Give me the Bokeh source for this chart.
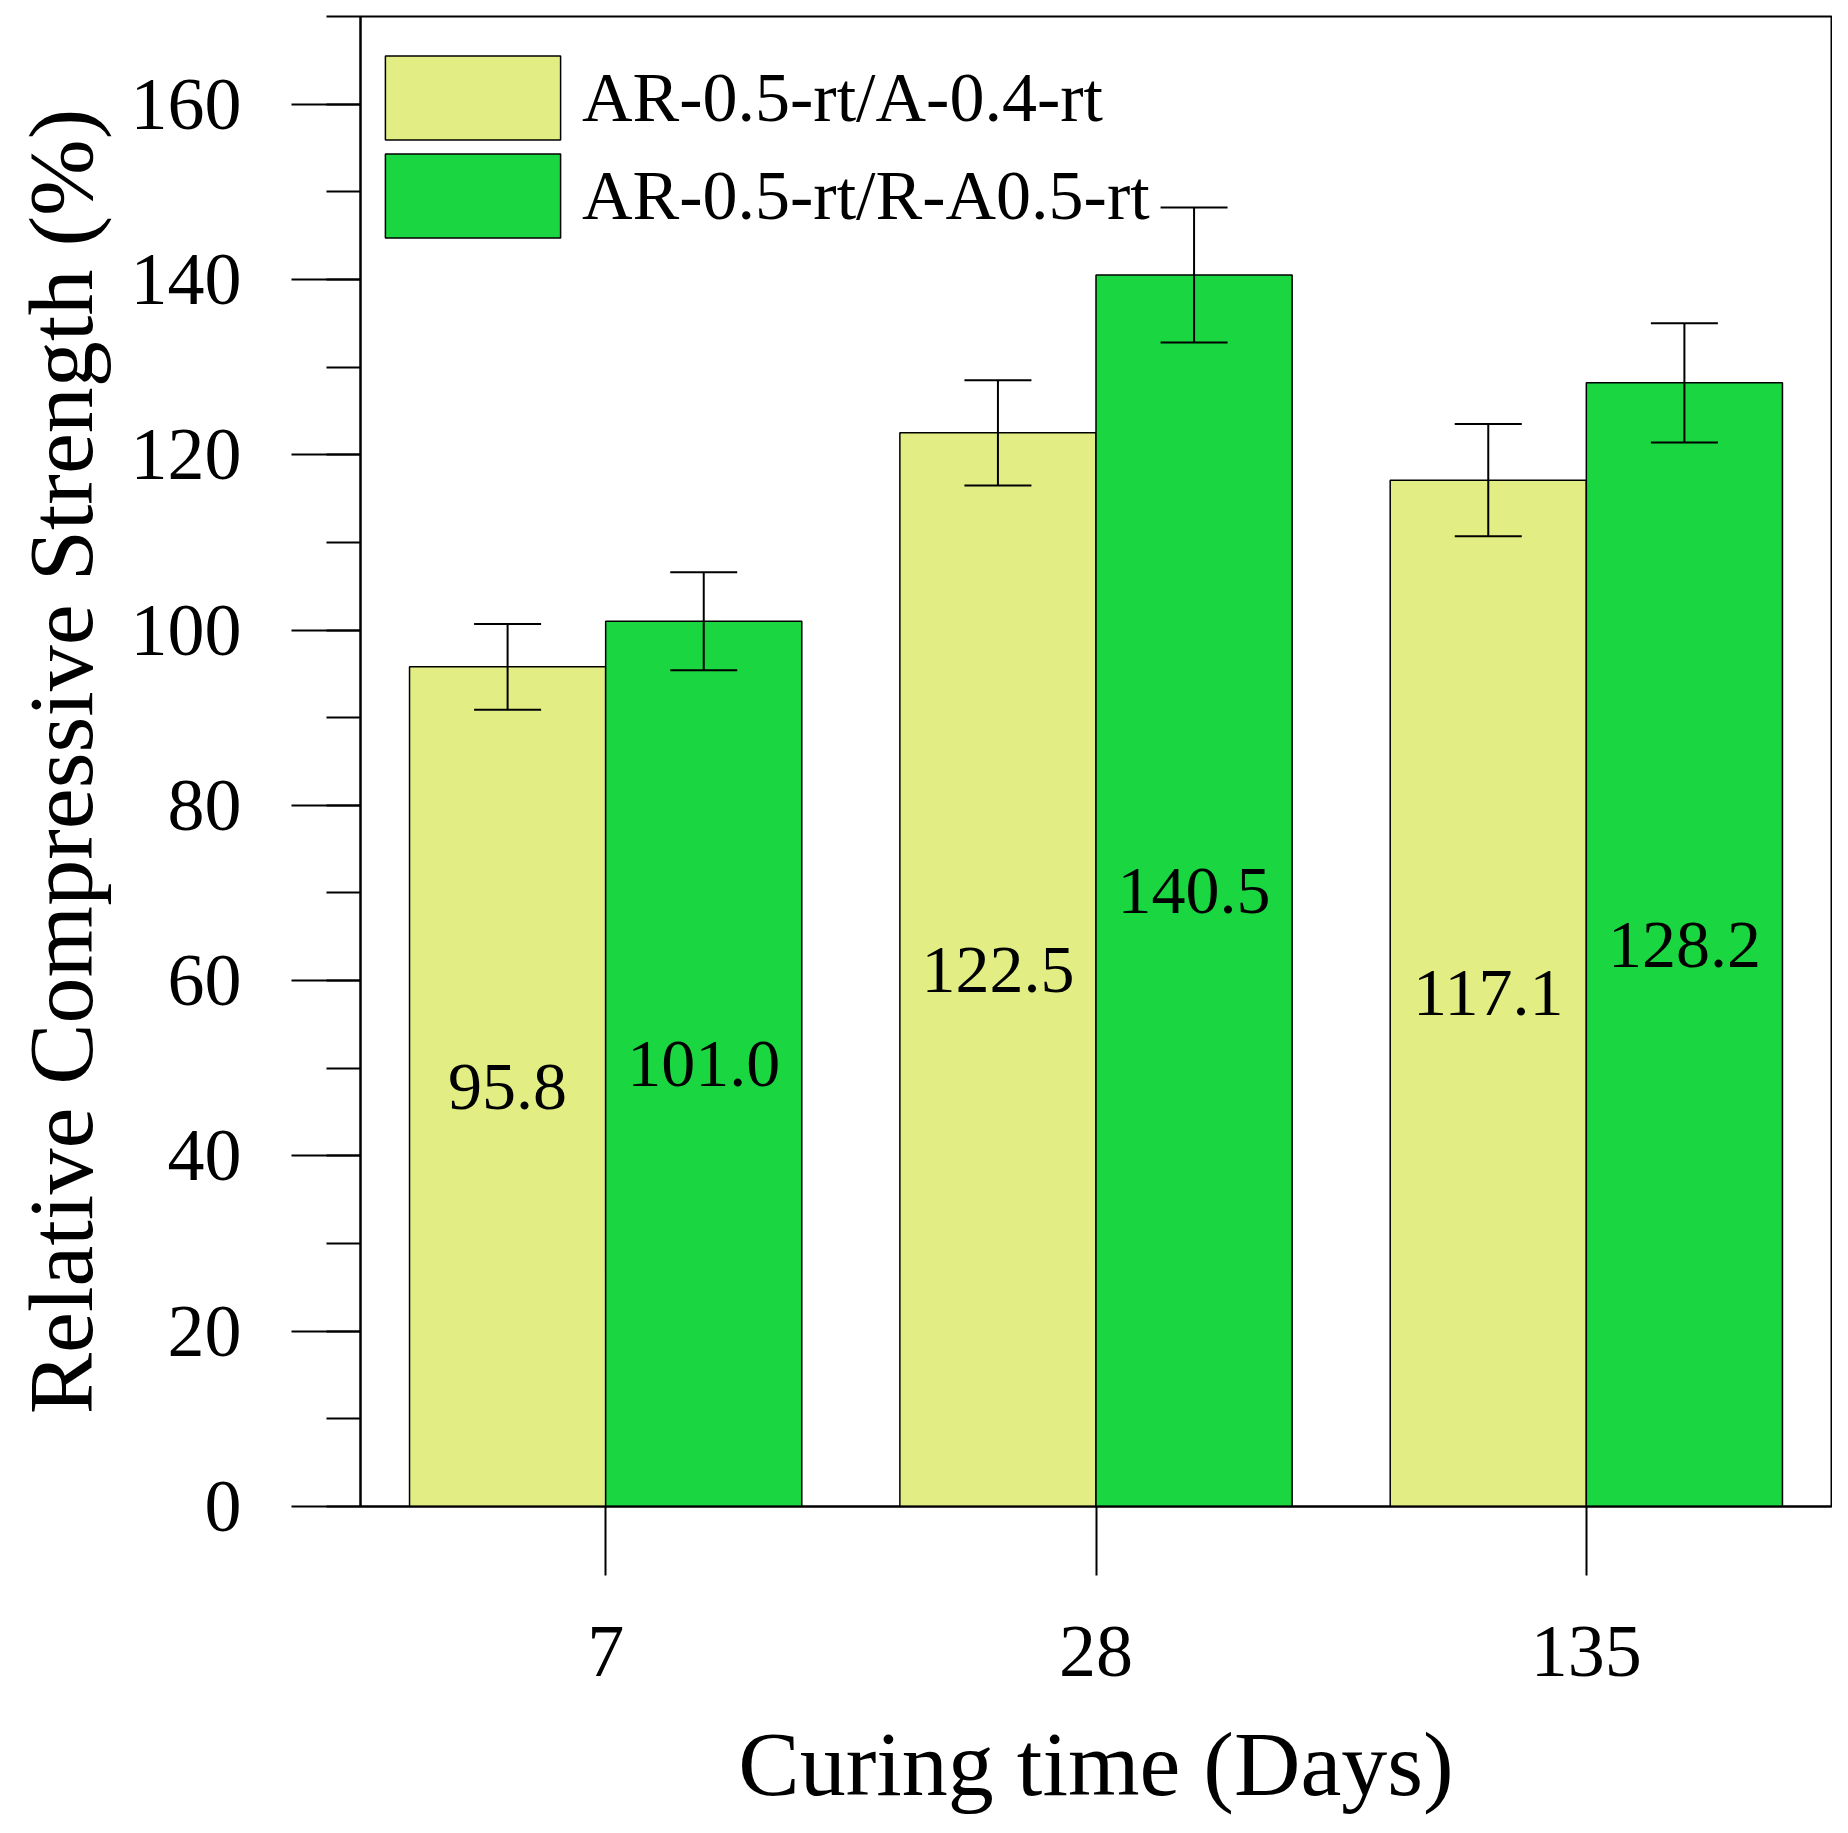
from bokeh.plotting import figure
from bokeh.models import (ColumnDataSource, FactorRange, Range1d, SingleIntervalTicker,
                          Legend, LegendItem, Whisker, TeeHead)
from bokeh.transform import dodge
from bokeh.core.properties import value
from bokeh.embed import file_html
from bokeh.resources import INLINE

# Data
days = ["7", "28", "135"]
series = ["AR-0.5-rt/A-0.4-rt", "AR-0.5-rt/R-A0.5-rt"]
strength_a = [95.8, 122.5, 117.1]
strength_r = [101.0, 140.5, 128.2]
err_a = [4.9, 6.0, 6.4]
err_r = [5.6, 7.7, 6.8]
colors = ["#E2EE84", "#1AD641"]

FONT = "Liberation Serif"

src = ColumnDataSource(data=dict(
    day=days,
    a=strength_a,
    r=strength_r,
    a_up=[v + e for v, e in zip(strength_a, err_a)],
    a_lo=[v - e for v, e in zip(strength_a, err_a)],
    r_up=[v + e for v, e in zip(strength_r, err_r)],
    r_lo=[v - e for v, e in zip(strength_r, err_r)],
    a_mid=[v / 2 for v in strength_a],
    r_mid=[v / 2 for v in strength_r],
    a_txt=[f"{v:.1f}" for v in strength_a],
    r_txt=[f"{v:.1f}" for v in strength_r],
))

p = figure(
    x_range=FactorRange(*days), y_range=Range1d(0, 170),
    width=1832, height=1817,
    output_backend="svg", toolbar_location=None,
    min_border_left=360, min_border_right=1,
    min_border_top=16, min_border_bottom=306,
)
p.background_fill_color = "white"
p.border_fill_color = "white"
p.outline_line_color = "black"
p.outline_line_width = 2
p.xgrid.visible = False
p.ygrid.visible = False

# bars
xa = dodge("day", -0.2, range=p.x_range)
xr = dodge("day", 0.2, range=p.x_range)
bar_a = p.vbar(x=xa, top="a", width=0.4, source=src,
               fill_color=colors[0], line_color="black", line_width=1.5)
bar_r = p.vbar(x=xr, top="r", width=0.4, source=src,
               fill_color=colors[1], line_color="black", line_width=1.5)

# error bars, drawn over the bars
for base, up, lo in [(xa, "a_up", "a_lo"), (xr, "r_up", "r_lo")]:
    w = Whisker(base=base, upper=up, lower=lo, source=src, level="overlay",
                line_color="black", line_width=2,
                upper_head=TeeHead(size=67, line_color="black", line_width=2),
                lower_head=TeeHead(size=67, line_color="black", line_width=2))
    p.add_layout(w)

# value labels inside bars
for x, y, t in [(xa, "a_mid", "a_txt"), (xr, "r_mid", "r_txt")]:
    p.text(x=x, y=y, text=t, source=src, text_align="center", text_baseline="middle",
           text_font=value(FONT), text_font_size="68px", text_color="black")

# axes
p.yaxis.ticker = SingleIntervalTicker(interval=20, num_minor_ticks=2)
p.yaxis.major_tick_out = 69
p.yaxis.major_tick_in = 0
p.yaxis.minor_tick_out = 34
p.yaxis.minor_tick_in = 0
p.yaxis.major_label_standoff = 50
p.yaxis.axis_label = "Relative Compressive Strength (%)"
p.yaxis.axis_label_standoff = 16

p.xaxis.major_tick_out = 69
p.xaxis.major_tick_in = 0
p.xaxis.major_label_standoff = 51
p.xaxis.axis_label = "Curing time (Days)"
p.xaxis.axis_label_standoff = 34

for ax in (p.xaxis, p.yaxis):
    ax.axis_line_width = 2
    ax.axis_line_color = "black"
    ax.major_tick_line_width = 2
    ax.major_tick_line_color = "black"
    ax.minor_tick_line_width = 2
    ax.minor_tick_line_color = "black"
    ax.major_label_text_font = FONT
    ax.major_label_text_font_size = "74px"
    ax.major_label_text_color = "black"
    ax.axis_label_text_font = FONT
    ax.axis_label_text_font_style = "normal"
    ax.axis_label_text_color = "black"
p.xaxis.axis_label_text_font_size = "92px"
p.yaxis.axis_label_text_font_size = "92px"

# legend: one entry per Legend so the two boxes can sit closer together
# (bokeh insets area glyphs by 10% of the glyph box)
for bar, label, loc in [(bar_a, series[0], (3, 1356)), (bar_r, series[1], (3, 1258))]:
    legend = Legend(items=[LegendItem(label=label, renderers=[bar])],
                    location=loc, glyph_width=219, glyph_height=105,
                    label_standoff=0, padding=0, margin=0,
                    border_line_alpha=0, background_fill_alpha=0,
                    label_text_font=FONT, label_text_font_size="70px",
                    label_text_color="black")
    p.add_layout(legend)

open("out.html", "w").write(file_html(p, INLINE))
